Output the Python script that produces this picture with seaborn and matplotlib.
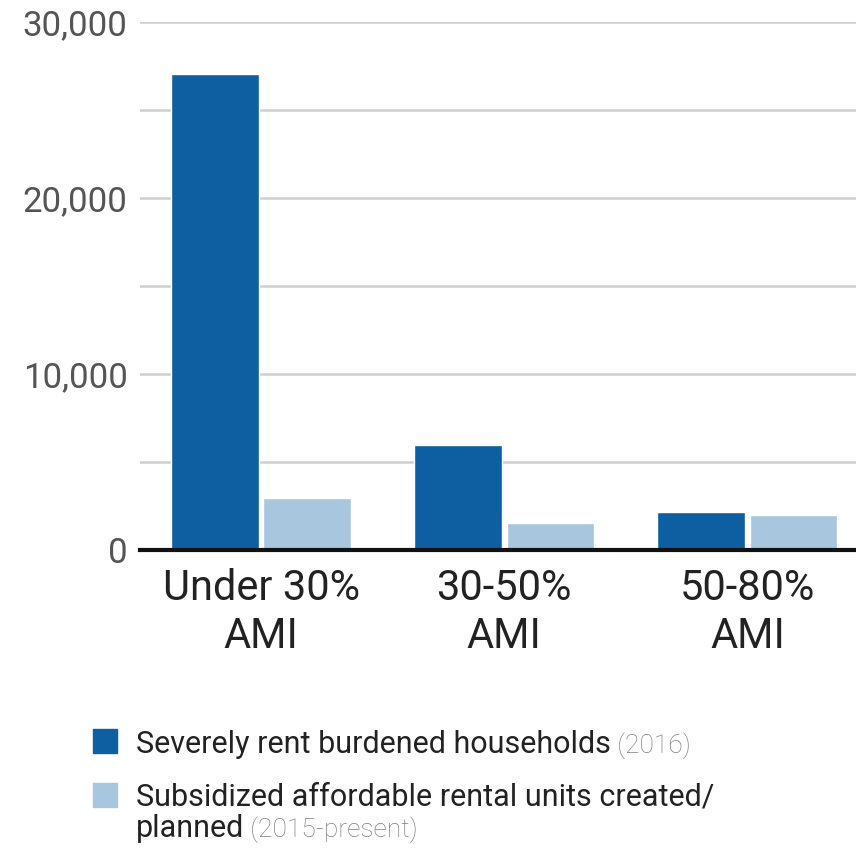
import matplotlib.pyplot as plt
import seaborn as sns
import pandas as pd
from matplotlib.patches import Rectangle

# values
categories = ['Under 30%\nAMI', '30-50%\nAMI', '50-80%\nAMI']
burdened = [27050, 5980, 2180]
subsidized = [2950, 1520, 1990]
series_names = ['Severely rent burdened households', 'Subsidized affordable rental units created/\nplanned']
series_notes = ['(2016)', '(2015-present)']
colors = ['#0d5fa2', '#a9c6df']
y_ticks = [0, 10000, 20000, 30000]
y_minor = [5000, 15000, 25000]

df = pd.DataFrame({
    'category': categories * 2,
    'value': burdened + subsidized,
    'series': [series_names[0]] * 3 + [series_names[1]] * 3,
})

sns.set_style('white')
plt.rcParams['font.family'] = ['Roboto', 'DejaVu Sans']

W, H = 856, 849
fig = plt.figure(figsize=(W / 100, H / 100), dpi=100)


def fx(px):
    return px / W


def fy(py):
    return 1 - py / H


ax = fig.add_axes([fx(140), fy(550), fx(856 - 140), fy(22) - fy(550)])
sns.barplot(data=df, x='category', y='value', hue='series', palette=colors,
            width=0.76, gap=0.05, saturation=1, legend=False, ax=ax)

ax.set_xlim(-0.498, 2.447)
ax.set_ylim(0, 30000)
ax.set_yticks(y_ticks)
ax.set_yticks(y_minor, minor=True)
ax.set_yticklabels([f'{v:,}' for v in y_ticks])
ax.grid(axis='y', which='both', color='#cfcfcf', linewidth=1.8, zorder=0)
ax.set_axisbelow(True)
for s in ['top', 'right', 'left']:
    ax.spines[s].set_visible(False)
ax.spines['bottom'].set_color('#111111')
ax.spines['bottom'].set_linewidth(3)
ax.tick_params(axis='y', which='both', length=0, pad=9, labelsize=25, labelcolor='#555555')
ax.tick_params(axis='x', length=0, pad=13, labelsize=30, labelcolor='#222222')
for lab in ax.get_xticklabels():
    lab.set_linespacing(1.22)
ax.set_xlabel('')
ax.set_ylabel('')

# legend drawn by hand, because the notes are in a lighter grey type
legend_size = 22
note_size = 19
legend_rows = [729, 783]
for i, top in enumerate(legend_rows):
    fig.patches.append(Rectangle((fx(93), fy(top + 24)), fx(24), fy(top) - fy(top + 24),
                                 transform=fig.transFigure, color=colors[i]))

# one text per legend line; the note goes after the last line of each entry
baselines = [[753], [806, 837]]
for i, name in enumerate(series_names):
    t = None
    for line, base in zip(name.split('\n'), baselines[i]):
        t = fig.text(fx(136), fy(base), line, fontsize=legend_size, color='#222222', va='baseline')
    ax.annotate(' ' + series_notes[i], xy=(1, 0), xycoords=t, va='bottom', fontsize=note_size,
                color='#808080', fontweight='light', annotation_clip=False)

fig.savefig('out.png', dpi=100)
